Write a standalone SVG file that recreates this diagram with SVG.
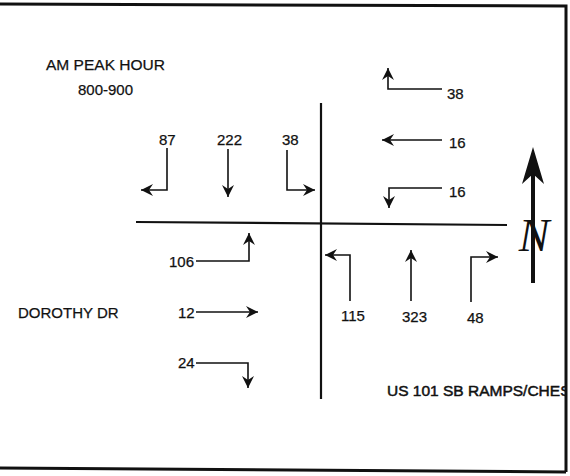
<svg xmlns="http://www.w3.org/2000/svg" width="570" height="476" viewBox="0 0 570 476">
<style>
.t{font-family:"Liberation Sans",Arial,sans-serif;font-size:15px;fill:#111;stroke:#111;stroke-width:0.25}
.a{fill:none;stroke:#111;stroke-width:1.6;marker-end:url(#ah)}
.road{stroke:#111;stroke-width:2.2;fill:none}
.border{stroke:#111;stroke-width:3;fill:none}
</style>
<defs>
<marker id="ah" markerUnits="userSpaceOnUse" markerWidth="13" markerHeight="12" refX="12" refY="6" orient="auto">
<path d="M0,0 L12,6 L0,12 L4,6 Z" fill="#111"/>
</marker>
<clipPath id="clipR"><rect x="0" y="0" width="565" height="476"/></clipPath>
</defs>
<rect width="570" height="476" fill="#fff"/>
<g id="frame">
<path class="border" d="M0,4 L566,6 L566,472"/>
<path class="border" d="M0,468 L566,472"/>
</g>
<g id="title">
<text class="t" x="46" y="70" textLength="119" lengthAdjust="spacingAndGlyphs">AM PEAK HOUR</text>
<text class="t" x="78" y="95">800-900</text>
</g>
<g id="roads">
<line class="road" x1="321" y1="103" x2="321" y2="399"/>
<line class="road" x1="136" y1="222" x2="507" y2="225"/>
</g>
<g id="connectors">
<path class="a" d="M167,148 L167,190 L141,190"/>
<path class="a" d="M228,149 L228,197"/>
<path class="a" d="M287,150 L287,190 L315,190"/>
<path class="a" d="M442,89 L388,89 L388,68"/>
<path class="a" d="M442,140 L382,140"/>
<path class="a" d="M442,188 L389,188 L389,208"/>
<path class="a" d="M196,261 L249,261 L249,233"/>
<path class="a" d="M196,312 L258,312"/>
<path class="a" d="M196,363 L248,363 L248,388"/>
<path class="a" d="M350,301 L350,255 L325,255"/>
<path class="a" d="M411,301 L411,250"/>
<path class="a" d="M471,302 L471,257 L498,257"/>
</g>
<g id="labels">
<text class="t" x="159" y="145">87</text>
<text class="t" x="217" y="145">222</text>
<text class="t" x="282" y="145">38</text>
<text class="t" x="447" y="99">38</text>
<text class="t" x="449" y="148">16</text>
<text class="t" x="449" y="197">16</text>
<text class="t" x="169" y="267">106</text>
<text class="t" x="178" y="318">12</text>
<text class="t" x="178" y="368">24</text>
<text class="t" x="341" y="321">115</text>
<text class="t" x="402" y="322">323</text>
<text class="t" x="467" y="323">48</text>
</g>
<g id="street-names">
<text class="t" x="18" y="318">DOROTHY DR</text>
<text class="t" x="387" y="396" style="font-size:15.5px;stroke-width:0.5" clip-path="url(#clipR)">US 101 SB RAMPS/CHES</text>
</g>
<g id="north-arrow">
<line x1="533" y1="168" x2="533" y2="283" stroke="#111" stroke-width="4"/>
<path d="M533,147 L544,184 L533,174 L522,184 Z" fill="#111"/>
<text x="534" y="251" text-anchor="middle" style="font-family:'Liberation Serif','DejaVu Serif',serif;font-style:italic;font-size:46px;fill:#111">N</text>
</g>
</svg>
